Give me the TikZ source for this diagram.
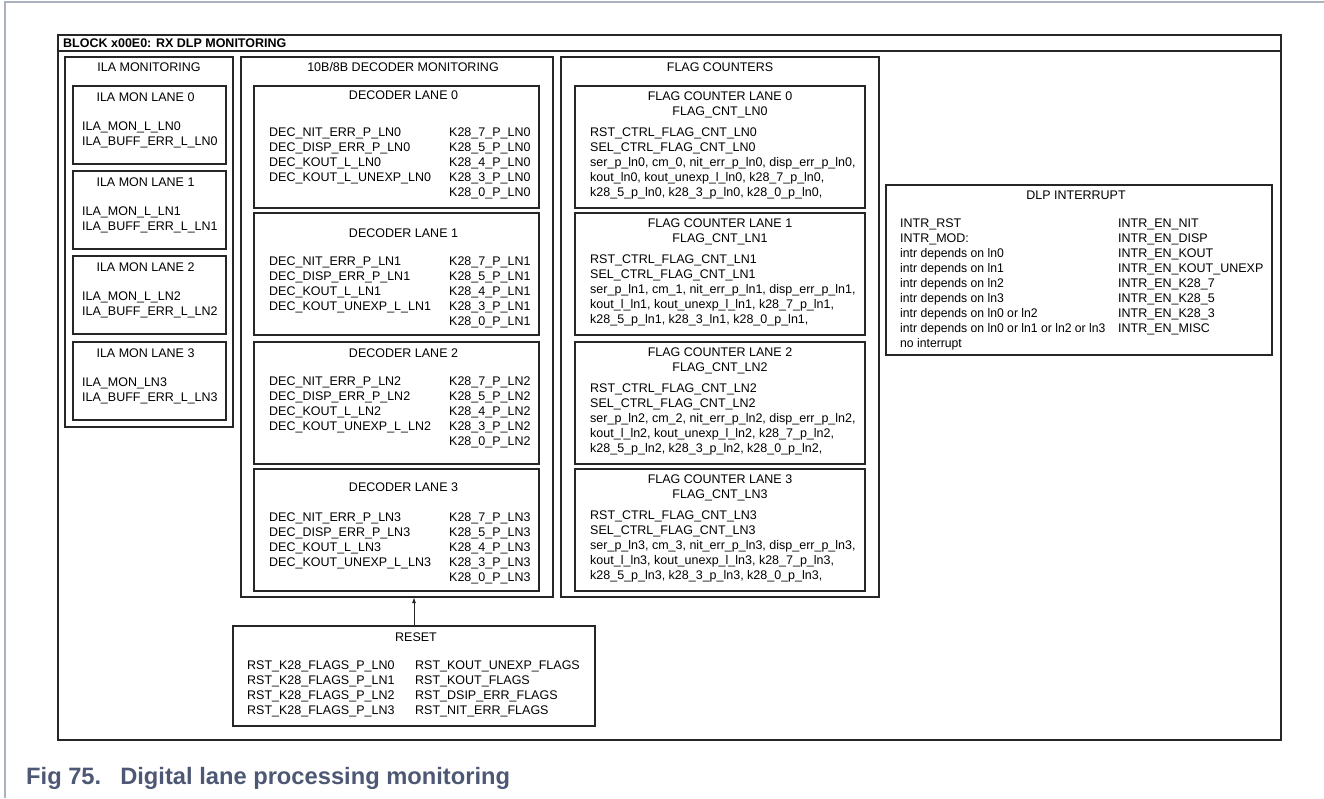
\documentclass[tikz,border=0pt]{standalone}
\usepackage{fontspec}
\setmainfont{Liberation Sans}
\newfontfamily\narrowfont[FakeStretch=0.975]{Liberation Sans}
\usetikzlibrary{arrows.meta, positioning, calc}
\definecolor{boxline}{HTML}{262626}
\definecolor{pageline}{HTML}{AAB1BF}
\definecolor{capblue}{HTML}{4D5874}
\newcommand{\regfont}{\fontsize{12.5}{15}\selectfont}

\tikzset{
  panel/.style={draw=boxline, line width=1.6pt, inner sep=0pt, outer sep=0pt, anchor=north west},
  heading/.style={inner sep=0pt, font=\regfont},
  regs/.style={inner sep=0pt, anchor=north west, align=left, font=\regfont},
}

\begin{document}
\begin{tikzpicture}[x=1pt, y=-1pt]
  \useasboundingbox (0,0) rectangle (1324,798);
  % page frame
  \draw[pageline, line width=2pt] (5,798) -- (5,2) -- (1324,2);

  % outer block
  \node[panel, minimum width=1223, minimum height=705] (block) at (58,35) {};
  \draw[boxline, line width=1.6pt] ($(block.north west)+(0,16)$) -- ($(block.north east)+(0,16)$);
  \node[heading, anchor=west, font=\regfont\bfseries] (blocktitle) at (63,43) {BLOCK x00E0: RX DLP MONITORING};

  % ILA monitoring
  \node[panel, minimum width=168, minimum height=370] (ilamon) at (65,57) {};
  \node[heading] (ilamon-t) at (149,67) {ILA MONITORING};
  \foreach \i/\y/\m in {0/86/ILA\_MON\_L\_LN0, 1/171/ILA\_MON\_L\_LN1, 2/256/ILA\_MON\_L\_LN2, 3/342/ILA\_MON\_LN3} {
    \node[panel, minimum width=153, minimum height=78] (ila\i) at (73,\y) {};
    \node[heading] (ila\i-t) at ($(ila\i.north)+(-4,11)$) {ILA MON LANE \i};
    \node[regs] (ila\i-l) at ($(ila\i.north west)+(9,35.5)$) {\m\\ILA\_BUFF\_ERR\_L\_LN\i};
  }

  % 10B/8B decoder monitoring
  \node[panel, minimum width=312, minimum height=540] (decmon) at (241,57) {};
  \node[heading] (decmon-t) at (403,67) {10B/8B DECODER MONITORING};
  \foreach \i/\y/\ty/\tx/\ku in {0/86/9/41.5/DEC\_KOUT\_L\_UNEXP\_LN0, 1/213/20/43.5/DEC\_KOUT\_UNEXP\_L\_LN1,
                                 2/342/11/35/DEC\_KOUT\_UNEXP\_L\_LN2, 3/469/18/43.5/DEC\_KOUT\_UNEXP\_L\_LN3} {
    \node[panel, minimum width=285, minimum height=122] (dec\i) at (254,\y) {};
    \node[heading] (dec\i-t) at ($(dec\i.north)+(7,\ty)$) {DECODER LANE \i};
    \node[regs] (dec\i-l) at ($(dec\i.north west)+(15,\tx)$)
      {DEC\_NIT\_ERR\_P\_LN\i\\DEC\_DISP\_ERR\_P\_LN\i\\DEC\_KOUT\_L\_LN\i\\\ku};
    \node[regs] (dec\i-r) at ($(dec\i.north west)+(195,\tx)$)
      {K28\_7\_P\_LN\i\\K28\_5\_P\_LN\i\\K28\_4\_P\_LN\i\\K28\_3\_P\_LN\i\\K28\_0\_P\_LN\i};
  }

  % flag counters
  \node[panel, minimum width=318, minimum height=540] (flagcnt) at (561,57) {};
  \node[heading] (flagcnt-t) at (720,67) {FLAG COUNTERS};
  \foreach \i/\y/\ko/\kt in {0/86/kout\_ln0/k28\_3\_p\_ln0, 1/213/kout\_l\_ln1/k28\_3\_ln1,
                             2/342/kout\_l\_ln2/k28\_3\_p\_ln2, 3/469/kout\_l\_ln3/k28\_3\_p\_ln3} {
    \node[panel, minimum width=290, minimum height=122] (flag\i) at (575,\y) {};
    \node[heading, align=center, anchor=north] (flag\i-t) at ($(flag\i.north)+(0,5.5)$)
      {FLAG COUNTER LANE \i\\FLAG\_CNT\_LN\i};
    \node[regs] (flag\i-l) at ($(flag\i.north west)+(15,41.5)$)
      {RST\_CTRL\_FLAG\_CNT\_LN\i\\SEL\_CTRL\_FLAG\_CNT\_LN\i\\
       ser\_p\_ln\i, cm\_\i, nit\_err\_p\_ln\i, disp\_err\_p\_ln\i,\\
       \ko, kout\_unexp\_l\_ln\i, k28\_7\_p\_ln\i,\\
       k28\_5\_p\_ln\i, \kt, k28\_0\_p\_ln\i,};
  }

  % DLP interrupt
  \node[panel, minimum width=386, minimum height=170] (dlp) at (886,185) {};
  \node[heading] (dlp-t) at ($(dlp.north)+(-3,10)$) {DLP INTERRUPT};
  \node[regs] (dlp-l) at ($(dlp.north west)+(14,33.5)$)
    {INTR\_RST\\INTR\_MOD:\\{\narrowfont intr depends on ln0}\\{\narrowfont intr depends on ln1}\\
     {\narrowfont intr depends on ln2}\\{\narrowfont intr depends on ln3}\\
     {\narrowfont intr depends on ln0 or ln2}\\{\narrowfont intr depends on ln0 or ln1 or ln2 or ln3}\\
     {\narrowfont no interrupt}};
  \node[regs] (dlp-r) at ($(dlp.north west)+(232,33.5)$)
    {INTR\_EN\_NIT\\INTR\_EN\_DISP\\INTR\_EN\_KOUT\\INTR\_EN\_KOUT\_UNEXP\\
     INTR\_EN\_K28\_7\\INTR\_EN\_K28\_5\\INTR\_EN\_K28\_3\\INTR\_EN\_MISC};

  % reset
  \node[panel, minimum width=362, minimum height=100] (reset) at (233,626) {};
  \node[heading] (reset-t) at (416,637) {RESET};
  \node[regs] (reset-l) at ($(reset.north west)+(14,34.5)$)
    {RST\_K28\_FLAGS\_P\_LN0\\RST\_K28\_FLAGS\_P\_LN1\\RST\_K28\_FLAGS\_P\_LN2\\RST\_K28\_FLAGS\_P\_LN3};
  \node[regs] (reset-r) at ($(reset.north west)+(182,34.5)$)
    {RST\_KOUT\_UNEXP\_FLAGS\\RST\_KOUT\_FLAGS\\RST\_DSIP\_ERR\_FLAGS\\RST\_NIT\_ERR\_FLAGS};
  \draw[-{Latex[length=6pt, width=4pt]}, boxline, line width=1pt] (reset.north) -- (reset.north |- decmon.south);

  % caption
  \node[anchor=base west, inner sep=0pt, font=\fontsize{23.7}{28}\selectfont\bfseries, text=capblue] (caption)
    at (26,784) {Fig 75.\hspace{19pt}Digital lane processing monitoring};
\end{tikzpicture}
\end{document}
